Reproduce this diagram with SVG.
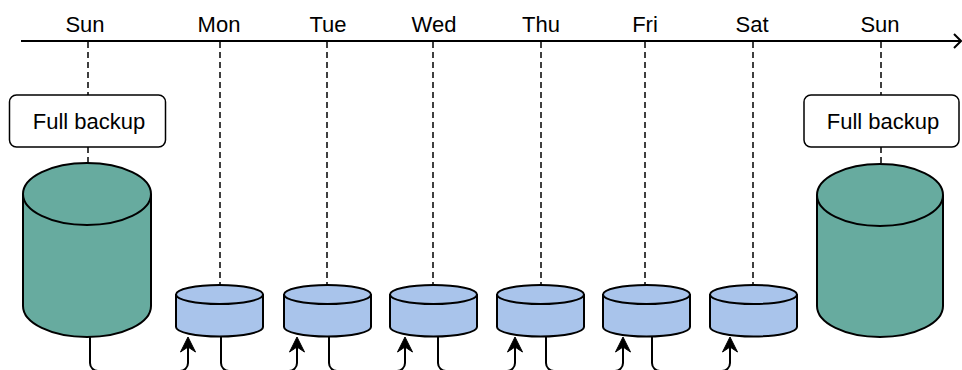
<svg xmlns="http://www.w3.org/2000/svg" width="962" height="370" viewBox="0 0 962 370">
  <style>
    .day { font-family: "Liberation Sans", Arial, Helvetica, sans-serif; font-size: 22px; fill: #000; text-anchor: middle; }
    .guide { stroke: #000; stroke-width: 1.5; stroke-dasharray: 6 4; fill: none; }
    .box { fill: #fff; stroke: #000; stroke-width: 1.5; }
    .full { fill: #67AB9F; stroke: #000; stroke-width: 2; }
    .incr { fill: #A9C4EB; stroke: #000; stroke-width: 2; }
    .cap { fill: none; stroke: #000; stroke-width: 2; }
    .link { fill: none; stroke: #000; stroke-width: 2; }
  </style>
  <defs>
    <marker id="head" markerUnits="userSpaceOnUse" viewBox="-6 -9 18 18" markerWidth="18" markerHeight="18" refX="0" refY="0" orient="auto">
      <path d="M10 0 L-5 -7.5 L0 0 L-5 7.5 Z" fill="#000" stroke="#000" stroke-width="1" stroke-linejoin="miter"/>
    </marker>
  </defs>

  <!-- timeline -->
  <g id="timeline">
    <line x1="21" y1="41" x2="960" y2="41" stroke="#000" stroke-width="2"/>
    <path d="M954 34 L961 41 L954 48" fill="none" stroke="#000" stroke-width="2"/>
    <text class="day" x="85" y="32">Sun</text>
    <text class="day" x="219" y="32">Mon</text>
    <text class="day" x="328" y="32">Tue</text>
    <text class="day" x="434" y="32">Wed</text>
    <text class="day" x="541" y="32">Thu</text>
    <text class="day" x="645" y="32">Fri</text>
    <text class="day" x="752" y="32">Sat</text>
    <text class="day" x="880" y="32">Sun</text>
  </g>

  <!-- dashed day guides -->
  <g id="guides">
    <line class="guide" x1="88" y1="42" x2="88" y2="95"/>
    <line class="guide" x1="88" y1="147" x2="88" y2="163"/>
    <line class="guide" x1="220" y1="42" x2="220" y2="285"/>
    <line class="guide" x1="327" y1="42" x2="327" y2="285"/>
    <line class="guide" x1="433" y1="42" x2="433" y2="285"/>
    <line class="guide" x1="541" y1="42" x2="541" y2="285"/>
    <line class="guide" x1="645" y1="42" x2="645" y2="285"/>
    <line class="guide" x1="753" y1="42" x2="753" y2="285"/>
    <line class="guide" x1="881" y1="42" x2="881" y2="95"/>
    <line class="guide" x1="881" y1="147" x2="881" y2="164"/>
  </g>

  <!-- Sunday full backup (start of week) -->
  <g id="full-sun-1">
    <rect class="box" x="9.5" y="95" width="156" height="52" rx="7"/>
    <text class="day" x="89" y="129">Full backup</text>
    <path class="full" d="M23 194 A64 31 0 0 1 151 194 V306 A64 31 0 0 1 23 306 Z"/>
    <path class="cap" d="M23 194 A64 31 0 0 0 151 194"/>
  </g>

  <!-- Sunday full backup (next week) -->
  <g id="full-sun-2">
    <rect class="box" x="804" y="95" width="155" height="52" rx="7"/>
    <text class="day" x="883" y="129">Full backup</text>
    <path class="full" d="M817 195 A63 31 0 0 1 943 195 V306 A63 31 0 0 1 817 306 Z"/>
    <path class="cap" d="M817 195 A63 31 0 0 0 943 195"/>
  </g>

  <!-- daily incremental backups -->
  <g id="inc-mon">
    <path class="incr" d="M176 294.5 A43.5 9.5 0 0 1 263 294.5 V327 A43.5 9.5 0 0 1 176 327 Z"/>
    <path class="cap" d="M176 294.5 A43.5 9.5 0 0 0 263 294.5"/>
  </g>
  <g id="inc-tue">
    <path class="incr" d="M284 294.5 A43.5 9.5 0 0 1 371 294.5 V327 A43.5 9.5 0 0 1 284 327 Z"/>
    <path class="cap" d="M284 294.5 A43.5 9.5 0 0 0 371 294.5"/>
  </g>
  <g id="inc-wed">
    <path class="incr" d="M390 294.5 A43.5 9.5 0 0 1 477 294.5 V327 A43.5 9.5 0 0 1 390 327 Z"/>
    <path class="cap" d="M390 294.5 A43.5 9.5 0 0 0 477 294.5"/>
  </g>
  <g id="inc-thu">
    <path class="incr" d="M497 294.5 A43.5 9.5 0 0 1 584 294.5 V327 A43.5 9.5 0 0 1 497 327 Z"/>
    <path class="cap" d="M497 294.5 A43.5 9.5 0 0 0 584 294.5"/>
  </g>
  <g id="inc-fri">
    <path class="incr" d="M603 294.5 A43.5 9.5 0 0 1 690 294.5 V327 A43.5 9.5 0 0 1 603 327 Z"/>
    <path class="cap" d="M603 294.5 A43.5 9.5 0 0 0 690 294.5"/>
  </g>
  <g id="inc-sat">
    <path class="incr" d="M710 294.5 A43.5 9.5 0 0 1 797 294.5 V327 A43.5 9.5 0 0 1 710 327 Z"/>
    <path class="cap" d="M710 294.5 A43.5 9.5 0 0 0 797 294.5"/>
  </g>

  <!-- chain links: each backup feeds the next day's one -->
  <g id="links">
    <path class="link" marker-end="url(#head)" d="M90 337 V363 A8 8 0 0 0 98 371 H180 A8 8 0 0 0 188 363 V347"/>
    <path class="link" marker-end="url(#head)" d="M221 337 V363 A8 8 0 0 0 229 371 H289 A8 8 0 0 0 297 363 V347"/>
    <path class="link" marker-end="url(#head)" d="M329 337 V363 A8 8 0 0 0 337 371 H397 A8 8 0 0 0 405 363 V347"/>
    <path class="link" marker-end="url(#head)" d="M438 337 V363 A8 8 0 0 0 446 371 H507 A8 8 0 0 0 515 363 V347"/>
    <path class="link" marker-end="url(#head)" d="M546 337 V363 A8 8 0 0 0 554 371 H615 A8 8 0 0 0 623 363 V347"/>
    <path class="link" marker-end="url(#head)" d="M652 337 V363 A8 8 0 0 0 660 371 H722 A8 8 0 0 0 730 363 V347"/>
  </g>
</svg>
